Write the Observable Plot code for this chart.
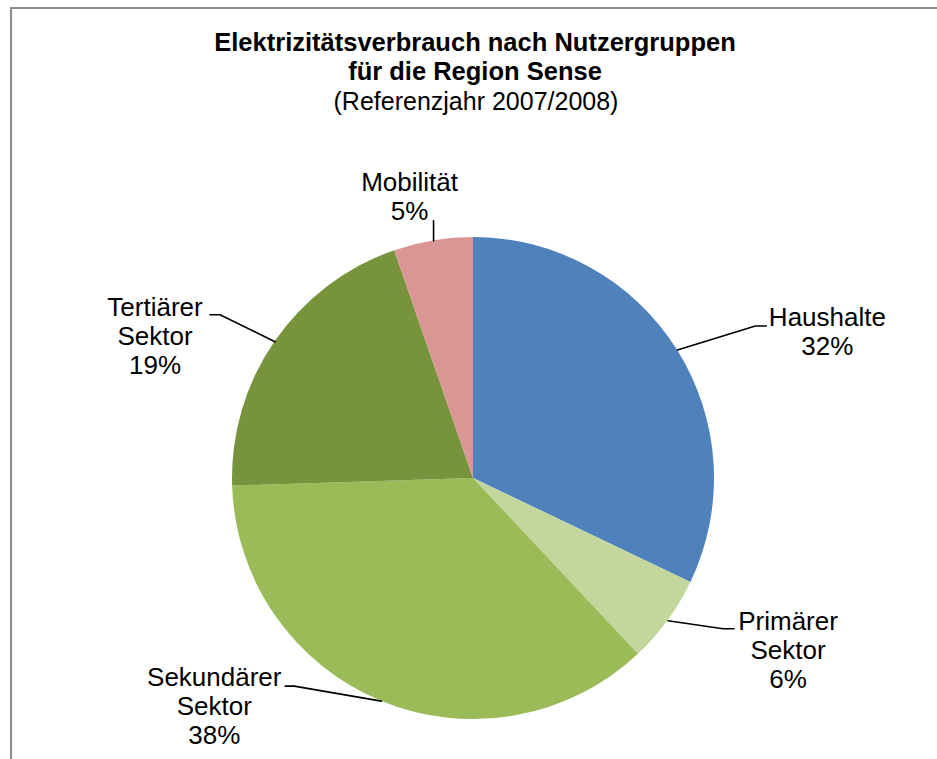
<!DOCTYPE html>
<html>
<head>
<meta charset="utf-8">
<script src="https://cdn.jsdelivr.net/npm/d3@7"></script>
<script src="https://cdn.jsdelivr.net/npm/@observablehq/plot@0.6"></script>
<style>
  html, body { margin: 0; padding: 0; background: #fff; }
  #wrap { position: relative; width: 937px; height: 759px; overflow: hidden; }
  #border { position: absolute; left: 10px; top: 7px; width: 1000px; height: 900px;
            border-left: 2px solid #8c8c8c; border-top: 2px solid #8c8c8c; pointer-events: none; }
</style>
</head>
<body>
<div id="wrap"><div id="border"></div></div>
<script>
// ---- data ----
const categories = ["Haushalte", "Primärer Sektor", "Sekundärer Sektor", "Tertiärer Sektor", "Mobilität"];
const shares = [32.1, 5.9, 36.5, 20.2, 5.3];          // slice sizes
const shareLabels = ["32%", "6%", "38%", "19%", "5%"]; // label texts as printed
const labelLines = [["Haushalte"], ["Primärer", "Sektor"], ["Sekundärer", "Sektor"], ["Tertiärer", "Sektor"], ["Mobilität"]];
const colors = ["#4F81BD", "#C3D69B", "#9BBB59", "#77933C", "#D99694"];
const titleLines = ["Elektrizitätsverbrauch nach Nutzergruppen", "für die Region Sense"];
const subtitle = "(Referenzjahr 2007/2008)";

// ---- layout (pixels) ----
const W = 937, H = 759, CX = 473, CY = 478, R = 241;
const FS = 26, LH = 29;
// label placement relative to the slice's mid-arc point: text centre/first baseline (tx,ty), leader end (lx,ly), elbow shift
const labelLayout = [
  {tx: 150, ty: -24, lx: 89, ly: -24, elbow: -11},
  {tx: 120, ty: 9, lx: 66, ly: 8, elbow: -11},
  {tx: -167, ty: -15, lx: -96, ly: -15, elbow: 9},
  {tx: -120, ty: -26, lx: -65, ly: -27, elbow: 10},
  {tx: -24, ty: -50, lx: 0, ly: -20, elbow: 0}
];

const table = categories.map((c, i) => ({name: c, value: shares[i], color: colors[i], label: shareLabels[i], lines: labelLines[i], layout: labelLayout[i]}));
const arcs = d3.pie().value(d => d.value).sort(null)(table);

// label rows and leader lines in data units (pie radius = 1, y up)
const textRows = [];
const leaders = [];
arcs.forEach((a, i) => {
  const mid = (a.startAngle + a.endAngle) / 2;
  const px = Math.sin(mid), py = Math.cos(mid);
  const L = a.data.layout;
  const rows = [...a.data.lines, a.data.label];
  rows.forEach((t, j) => {
    textRows.push({text: t, x: px + L.tx / R, y: py - (L.ty + j * LH) / R});
  });
  const ex = px + L.lx / R, ey = py - L.ly / R;
  leaders.push({id: i, x: px, y: py});
  if (L.elbow !== 0) leaders.push({id: i, x: ex + L.elbow / R, y: ey});
  leaders.push({id: i, x: ex, y: ey});
});

function pieMark(index, scales) {
  const cx = scales.x(0), cy = scales.y(0), r = scales.x(1) - scales.x(0);
  const g = d3.create("svg:g").attr("transform", `translate(${cx},${cy})`);
  const arcGen = d3.arc().innerRadius(0).outerRadius(r);
  g.selectAll("path").data(arcs).join("path")
    .attr("d", arcGen)
    .attr("fill", d => d.data.color);
  return g.node();
}

const TFS = 25.5, TLH = 29.8;
const chart = Plot.plot({
  width: W, height: H,
  margin: 0,
  x: {domain: [-CX / R, (W - CX) / R], axis: null},
  y: {domain: [-(H - CY) / R, CY / R], axis: null},
  style: {background: "transparent", fontFamily: "'Liberation Sans', Arial, sans-serif", overflow: "visible"},
  marks: [
    pieMark,
    Plot.line(leaders, {x: "x", y: "y", z: "id", stroke: "#000", strokeWidth: 1.6, curve: "linear"}),
    Plot.text(textRows, {x: "x", y: "y", text: "text", fontSize: FS, fill: "#000", textAnchor: "middle", lineAnchor: "middle", dy: -0.32 * FS}),
    Plot.text([titleLines[0]], {frameAnchor: "top", lineAnchor: "top", fontSize: TFS, fontWeight: "bold", dx: 6, dy: 32, fill: "#000"}),
    Plot.text([titleLines[1]], {frameAnchor: "top", lineAnchor: "top", fontSize: TFS, fontWeight: "bold", dx: 6, dy: 32 + TLH, fill: "#000"}),
    Plot.text([subtitle], {frameAnchor: "top", lineAnchor: "top", fontSize: 25, dx: 7, dy: 32 + 2 * TLH + 0.5, fill: "#000"})
  ]
});
chart.style.position = "absolute";
chart.style.left = "0px";
chart.style.top = "0px";
document.getElementById("wrap").prepend(chart);
</script>
</body>
</html>
